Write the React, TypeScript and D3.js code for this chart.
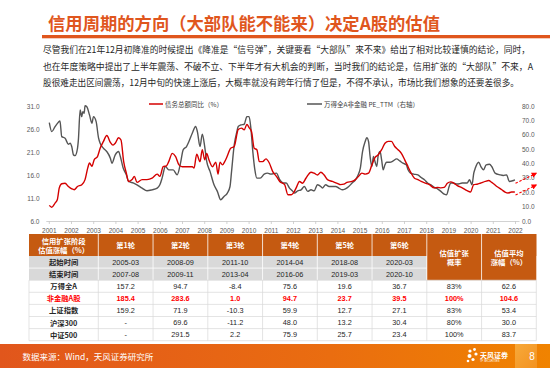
import * as d3 from 'd3';

const titleText = '信用周期的方向（大部队能不能来）决定A股的估值';
const introLines = [
  '尽管我们在21年12月初降准的时候提出《降准是“信号弹”，关键要看“大部队”来不来》给出了相对比较谨慎的结论，同时，',
  '也在年度策略中提出了上半年震荡、不破不立、下半年才有大机会的判断，当时我们的结论是，信用扩张的“大部队”不来，A',
  '股很难走出区间震荡，12月中旬的快速上涨后，大概率就没有跨年行情了但是，不得不承认，市场比我们想象的还要差很多。',
];
const introWidths = [487, 490, 476];

// 债务总额同比（%），左轴
const debtT = [
  2001.0, 2001.11, 2001.26, 2001.36, 2001.45, 2001.56, 2001.71, 2001.86, 2002.01, 2002.12, 2002.27,
  2002.46, 2002.61, 2002.73, 2002.81, 2002.92, 2003.02, 2003.17, 2003.29, 2003.44, 2003.59, 2003.75,
  2003.87, 2003.97, 2004.12, 2004.23, 2004.35, 2004.47, 2004.57, 2004.73, 2004.83, 2004.95, 2005.18,
  2005.4, 2005.63, 2005.86, 2005.98, 2006.13, 2006.28, 2006.38, 2006.54, 2006.69, 2006.84, 2006.99,
  2007.21, 2007.44, 2007.52, 2007.64, 2007.79, 2007.89, 2008.0, 2008.09, 2008.19, 2008.35, 2008.5,
  2008.6, 2008.69, 2008.8, 2008.9, 2008.99, 2009.17, 2009.33, 2009.51, 2009.66, 2009.78, 2009.9,
  2010.0, 2010.11, 2010.23, 2010.35, 2010.46, 2010.61, 2010.76, 2010.91, 2011.06, 2011.23, 2011.38,
  2011.6, 2011.75, 2011.9, 2012.0, 2012.12, 2012.27, 2012.41, 2012.56, 2012.79, 2012.93, 2013.08,
  2013.23, 2013.38, 2013.53, 2013.75, 2013.97, 2014.12, 2014.27, 2014.41, 2014.64, 2014.79, 2014.93,
  2015.08, 2015.23, 2015.38, 2015.53, 2015.67, 2015.82, 2015.97, 2016.12, 2016.27, 2016.41, 2016.56,
  2016.71, 2016.86, 2017.01, 2017.16, 2017.3, 2017.45, 2017.6, 2017.75, 2017.97, 2018.12, 2018.34,
  2018.49, 2018.64, 2018.79, 2018.93, 2019.08, 2019.23, 2019.38, 2019.6, 2019.82, 2019.97, 2020.12,
  2020.27, 2020.41, 2020.64, 2020.79, 2020.93, 2021.16, 2021.38, 2021.53, 2021.67, 2021.82, 2021.97,
];
const debtYoY = [
  9.4, 9.0, 9.9, 10.6, 13.2, 14.1, 14.2, 13.5, 13.0, 12.8, 13.5,
  13.9, 15.0, 17.5, 18.6, 17.9, 19.3, 20.0, 21.8, 23.3, 24.6, 23.1,
  22.5, 22.9, 24.1, 23.6, 18.9, 16.4, 14.6, 15.0, 15.7, 14.4, 15.0,
  15.0, 15.3, 16.2, 15.7, 17.8, 18.0, 18.9, 20.7, 20.0, 18.2, 17.8,
  17.8, 17.8, 17.5, 20.5, 18.9, 21.5, 19.3, 20.7, 19.3, 17.8, 18.8,
  16.2, 18.8, 18.2, 18.9, 19.8, 21.8, 22.2, 25.9, 26.2, 25.8, 27.0,
  26.3, 25.4, 21.8, 21.5, 18.9, 18.9, 19.5, 18.6, 16.8, 15.7, 14.6,
  13.9, 11.7, 11.7, 12.1, 13.2, 14.6, 14.2, 15.3, 16.6, 16.4, 16.0,
  16.6, 16.0, 15.0, 14.6, 14.2, 13.9, 14.0, 14.4, 14.6, 15.0, 15.7,
  16.4, 16.2, 16.4, 18.2, 19.8, 20.4, 21.5, 22.9, 23.3, 23.3, 22.2,
  21.5, 20.7, 19.3, 17.8, 16.4, 15.3, 15.0, 14.6, 14.2, 13.9, 13.2,
  13.3, 13.2, 13.3, 14.2, 14.5, 14.2, 13.7, 13.2, 12.6, 12.3, 13.9,
  14.0, 14.2, 14.6, 14.8, 14.4, 13.5, 12.8, 12.3, 12.1, 12.3, 12.3,
];

// 万得全A非金融 PE_TTM，右轴
const peT = [
  2001.0, 2001.11, 2001.26, 2001.41, 2001.48, 2001.56, 2001.71, 2001.86, 2001.94, 2002.01, 2002.09,
  2002.16, 2002.27, 2002.31, 2002.39, 2002.46, 2002.51, 2002.57, 2002.61, 2002.69, 2002.81, 2002.92,
  2002.99, 2003.11, 2003.22, 2003.29, 2003.44, 2003.59, 2003.75, 2003.82, 2003.97, 2004.12, 2004.2,
  2004.32, 2004.47, 2004.57, 2004.8, 2004.95, 2005.18, 2005.4, 2005.63, 2005.86, 2005.98, 2006.08,
  2006.23, 2006.38, 2006.58, 2006.76, 2006.91, 2007.03, 2007.18, 2007.29, 2007.44, 2007.59, 2007.67,
  2007.79, 2007.89, 2008.0, 2008.09, 2008.24, 2008.42, 2008.57, 2008.72, 2008.87, 2009.02, 2009.14,
  2009.21, 2009.33, 2009.45, 2009.51, 2009.63, 2009.78, 2009.9, 2010.0, 2010.08, 2010.16, 2010.26,
  2010.35, 2010.5, 2010.68, 2010.83, 2010.98, 2011.23, 2011.38, 2011.53, 2011.67, 2011.82, 2011.97,
  2012.04, 2012.19, 2012.34, 2012.49, 2012.64, 2012.79, 2012.93, 2013.08, 2013.23, 2013.3, 2013.45,
  2013.6, 2013.75, 2013.9, 2014.04, 2014.19, 2014.34, 2014.49, 2014.64, 2014.79, 2014.9, 2015.01,
  2015.11, 2015.23, 2015.3, 2015.38, 2015.45, 2015.53, 2015.6, 2015.67, 2015.75, 2015.82, 2015.9,
  2015.97, 2016.04, 2016.12, 2016.19, 2016.34, 2016.49, 2016.64, 2016.79, 2016.93, 2017.08, 2017.16,
  2017.27, 2017.42, 2017.6, 2017.75, 2017.9, 2018.04, 2018.19, 2018.34, 2018.49, 2018.64, 2018.79,
  2018.9, 2019.01, 2019.08, 2019.2, 2019.38, 2019.6, 2019.82, 2019.93, 2020.04, 2020.12, 2020.19,
  2020.34, 2020.44, 2020.56, 2020.68, 2020.83, 2020.93, 2021.08, 2021.3, 2021.45, 2021.6, 2021.72,
  2021.87, 2021.97,
];
const peTTM = [
  68.4, 62.2, 65.7, 68.7, 69.6, 58.7, 57.6, 53.4, 54.1, 51.8, 46.0,
  45.5, 50.6, 56.4, 77.2, 72.6, 76.1, 74.9, 80.2, 79.5, 73.8, 68.0,
  72.6, 69.1, 57.6, 54.1, 50.6, 48.3, 43.7, 40.2, 46.0, 48.3, 44.9,
  37.2, 32.1, 27.5, 26.4, 25.2, 22.9, 21.0, 21.7, 22.9, 25.2, 29.8,
  37.9, 35.6, 35.6, 32.1, 40.2, 49.5, 51.8, 55.3, 61.0, 65.7, 62.2,
  51.8, 60.3, 51.8, 41.4, 34.5, 25.2, 20.6, 14.8, 17.1, 19.4, 24.0,
  34.5, 52.9, 62.2, 65.7, 66.8, 67.3, 72.6, 72.6, 64.5, 49.5, 35.6,
  29.8, 29.8, 32.6, 33.3, 32.6, 33.3, 28.7, 26.4, 26.4, 22.9, 20.6,
  19.4, 21.0, 21.7, 24.0, 20.6, 21.7, 21.0, 25.2, 24.0, 22.9, 25.2,
  24.0, 24.0, 24.0, 22.9, 21.7, 22.4, 24.0, 26.4, 28.7, 31.7, 36.8,
  48.3, 55.3, 58.0, 55.3, 44.9, 37.9, 44.9, 41.4, 37.9, 46.0, 48.3,
  42.5, 35.6, 39.1, 40.9, 40.9, 41.8, 43.2, 41.8, 40.2, 39.1, 35.6,
  33.3, 32.6, 32.1, 30.3, 28.7, 26.4, 25.2, 23.4, 22.4, 20.6, 18.7,
  18.3, 24.0, 26.4, 26.4, 25.7, 26.4, 26.4, 28.7, 25.2, 33.3, 36.8,
  40.9, 37.9, 35.6, 39.1, 39.5, 37.9, 33.3, 32.1, 31.7, 32.1, 27.5,
  28.0, 28.7,
];

// 右侧红色虚线箭头（右轴坐标）：[起点年, 起点值, 终点年, 终点值]
const trendArrows = [
  [2022.0, 26.2, 2022.93, 33.2],
  [2022.0, 18.1, 2022.93, 25.0],
];

const yearTicks = d3.range(2001, 2023);
const leftTicks = [6, 11, 16, 21, 26, 31];
const rightTicks = [0, 10, 20, 30, 40, 50, 60, 70, 80];

const tableCorner = ['信用扩张阶段', '估值涨幅（%）'];
const rounds = ['第1轮', '第2轮', '第3轮', '第4轮', '第5轮', '第6轮'];
const summaryHeads = [['估值扩张', '概率'], ['估值平均', '涨幅（%）']];
const startDates = ['2005-03', '2008-09', '2011-10', '2014-04', '2018-08', '2020-03'];
const endDates = ['2007-08', '2009-11', '2013-04', '2016-06', '2019-03', '2020-10'];
const indexNames = ['万得全A', '非金融A股', '上证指数', '沪深300', '中证500'];
const indexValues = [
  ['157.2', '94.7', '-8.4', '75.6', '19.6', '36.7', '83%', '62.6'],
  ['185.4', '283.6', '1.0', '94.7', '23.7', '39.5', '100%', '104.6'],
  ['159.2', '71.9', '-10.3', '59.9', '12.7', '27.1', '83%', '53.4'],
  ['-', '69.6', '-11.2', '48.0', '13.2', '30.4', '80%', '30.0'],
  ['-', '291.5', '2.2', '75.9', '25.7', '23.4', '100%', '83.7'],
];
const highlightRow = '非金融A股';

const sourceText = '数据来源：Wind，天风证券研究所';

const font = "'Liberation Sans', 'Noto Sans CJK SC', sans-serif";
const cjk = "'Noto Sans CJK SC', sans-serif";
const accent = '#e0561d';
const headBg = '#c55a11';
const red = '#d40000';
const gray = '#555555';

export default function App() {
  const W = 550, H = 368;

  const x = d3.scaleLinear().domain([2001, 2022]).range([49.3, 515.5]);
  const yL = d3.scaleLinear().domain([6, 31]).range([221, 106]);
  const yR = d3.scaleLinear().domain([0, 80]).range([221, 106]);

  const debtLine = d3
    .line<number>()
    .x((_, i) => x(debtT[i]))
    .y((d) => yL(d))
    .curve(d3.curveMonotoneX);
  const peLine = d3
    .line<number>()
    .x((_, i) => x(peT[i]))
    .y((d) => yR(d))
    .curve(d3.curveMonotoneX);

  // table geometry
  const tX0 = 29, firstW = 69.3, colW = 54.75;
  const colLeft = (j: number) => (j === 0 ? tX0 : tX0 + firstW + (j - 1) * colW);
  const colMid = (j: number) => (j === 0 ? tX0 + firstW / 2 : colLeft(j) + colW / 2);
  const tRight = colLeft(9);
  const headTop = 234, headH = 22, rowH = 12.1;
  const rowTop = (r: number) => headTop + headH + r * rowH; // r: 0 起始, 1 结束, 2.. 指数
  const tBottom = rowTop(7);

  return (
    <svg
      width={W}
      height={H}
      viewBox={`0 0 ${W} ${H}`}
      style={{ position: 'absolute', left: 0, top: 0, display: 'block', background: '#fff' }}
      fontFamily={font}
    >
      <defs>
        <linearGradient id="foot" x1="0" x2="1" y1="0" y2="0">
          <stop offset="0" stopColor="#e1561c" />
          <stop offset="0.6" stopColor="#ea6d10" />
          <stop offset="1" stopColor="#f08300" />
        </linearGradient>
        <linearGradient id="pageBox" x1="0" x2="1" y1="0" y2="1">
          <stop offset="0" stopColor="#f7a93a" />
          <stop offset="1" stopColor="#f39220" />
        </linearGradient>
        <marker id="arrowHead" viewBox="0 0 10 10" refX="8" refY="5" markerWidth="5" markerHeight="5" orient="auto">
          <path d="M0,0 L10,5 L0,10 z" fill="#ff0000" />
        </marker>
      </defs>

      {/* title */}
      <text x={48} y={22} fill={accent} fontFamily={cjk} fontWeight="bold" fontSize={17.5}
        dominantBaseline="central" textLength={392} lengthAdjust="spacingAndGlyphs">
        {titleText}
      </text>
      <rect x={42} y={35} width={W - 42} height={3.3} fill={accent} />

      {introLines.map((t, i) => (
        <text key={i} x={43} y={49.5 + i * 16.6} fontFamily={cjk} fontSize={8.8} fill="#262626"
          dominantBaseline="central" textLength={introWidths[i]} lengthAdjust="spacingAndGlyphs">
          {t}
        </text>
      ))}

      {/* chart */}
      <g fontSize={6.5} fill="#595959">
        {leftTicks.map((d) => (
          <text key={d} x={39.5} y={yL(d)} textAnchor="end" dominantBaseline="central">
            {d.toFixed(1)}
          </text>
        ))}
        {rightTicks.map((d) => (
          <text key={d} x={522} y={yR(d)} dominantBaseline="central">
            {d.toFixed(1)}
          </text>
        ))}
        <line x1={x(2001) - 3} x2={x(2022) + 4} y1={221.5} y2={221.5} stroke="#bfbfbf" strokeWidth={0.7} />
        {yearTicks.map((yr) => (
          <g key={yr} transform={`translate(${x(yr)},0)`}>
            <line y1={221.5} y2={224} stroke="#bfbfbf" strokeWidth={0.7} />
            <text y={230} textAnchor="middle" dominantBaseline="central">{yr}</text>
          </g>
        ))}
      </g>

      <path d={peLine(peTTM)!} fill="none" stroke={gray} strokeWidth={1.4} strokeLinejoin="round" />
      <path d={debtLine(debtYoY)!} fill="none" stroke={red} strokeWidth={1.4} strokeLinejoin="round" />

      {trendArrows.map(([a, b, c, d], i) => (
        <line key={i} x1={x(a)} y1={yR(b)} x2={x(c)} y2={yR(d)} stroke="#ff0000" strokeWidth={1.1}
          strokeDasharray="2.5,1.8" markerEnd="url(#arrowHead)" />
      ))}

      {/* legend */}
      <g fontSize={6.5} fill="#404040" fontFamily={cjk}>
        <line x1={149} x2={163} y1={104} y2={104} stroke={red} strokeWidth={1.5} />
        <text x={165} y={104} dominantBaseline="central">债务总额同比（%）</text>
        <line x1={307} x2={322} y1={104} y2={104} stroke={gray} strokeWidth={1.5} />
        <text x={324} y={104} dominantBaseline="central">万得全A非金融 PE_TTM（右轴）</text>
      </g>

      {/* table */}
      <g fontSize={7.3}>
        <rect x={tX0} y={headTop} width={tRight - tX0} height={headH} fill={headBg} />
        <rect x={colLeft(7)} y={headTop} width={colW * 2} height={headH + rowH * 2} fill={headBg} />
        <rect x={tX0} y={rowTop(0)} width={colLeft(7) - tX0} height={rowH * 2} fill="#d9d9d9" />
        <line x1={tX0} x2={colLeft(7)} y1={rowTop(1)} y2={rowTop(1)} stroke="#fff" strokeWidth={0.8} />
        {d3.range(1, 9).map((j) => (
          <line key={j} x1={colLeft(j)} x2={colLeft(j)} y1={headTop} y2={rowTop(2)} stroke="#fff" strokeWidth={0.8} />
        ))}
        {/* white body grid */}
        {d3.range(2, 8).map((r) => (
          <line key={r} x1={tX0} x2={tRight} y1={rowTop(r)} y2={rowTop(r)} stroke="#d9d9d9" strokeWidth={0.7} />
        ))}
        {d3.range(0, 10).map((j) => (
          <line key={j} x1={colLeft(j)} x2={colLeft(j)} y1={rowTop(2)} y2={tBottom} stroke="#d9d9d9" strokeWidth={0.7} />
        ))}

        <g fill="#fff" fontWeight="bold" fontFamily={cjk} textAnchor="middle" dominantBaseline="central">
          <text x={colMid(0)} y={headTop + 6.5}>{tableCorner[0]}</text>
          <text x={colMid(0)} y={headTop + 15.5}>{tableCorner[1]}</text>
          {rounds.map((r, i) => (
            <text key={r} x={colMid(i + 1)} y={headTop + headH / 2}>{r}</text>
          ))}
          {summaryHeads.map((lines, i) =>
            lines.map((t, k) => (
              <text key={`${i}-${k}`} x={colMid(7 + i)} y={headTop + 18.5 + k * 9}>{t}</text>
            ))
          )}
        </g>

        <g textAnchor="middle" dominantBaseline="central" fill="#262626">
          <text x={colMid(0)} y={rowTop(0) + rowH / 2} fontWeight="bold" fontFamily={cjk}>起始时间</text>
          <text x={colMid(0)} y={rowTop(1) + rowH / 2} fontWeight="bold" fontFamily={cjk}>结束时间</text>
          {startDates.map((d, i) => (
            <text key={`s${i}`} x={colMid(i + 1)} y={rowTop(0) + rowH / 2}>{d}</text>
          ))}
          {endDates.map((d, i) => (
            <text key={`e${i}`} x={colMid(i + 1)} y={rowTop(1) + rowH / 2}>{d}</text>
          ))}
          {indexNames.map((name, r) => {
            const hl = name === highlightRow;
            const cy = rowTop(r + 2) + rowH / 2;
            return (
              <g key={name} fill={hl ? '#ff0000' : '#262626'} fontWeight={hl ? 'bold' : 'normal'}>
                <text x={colMid(0)} y={cy} fontWeight="bold" fontFamily={cjk}>{name}</text>
                {indexValues[r].map((v, j) => (
                  <text key={j} x={colMid(j + 1)} y={cy}>{v}</text>
                ))}
              </g>
            );
          })}
        </g>
      </g>

      {/* footer */}
      <rect x={0} y={344} width={W} height={H - 344} fill="url(#foot)" />
      <rect x={515} y={344} width={22} height={H - 344} fill="url(#pageBox)" />
      <text x={22.5} y={356} fill="#fff" fontFamily={cjk} fontSize={8.5} dominantBaseline="central">
        {sourceText}
      </text>
      <g fill="#fff">
        <circle cx={470} cy={351} r={1.6} />
        <circle cx={474.5} cy={349.5} r={1.4} />
        <circle cx={476} cy={354} r={1.6} />
        <circle cx={469.5} cy={356} r={2} />
        <circle cx={473} cy={359.5} r={1.6} />
        <circle cx={468} cy={361} r={1.3} />
        <text x={480} y={354.5} fontFamily={cjk} fontSize={7} fontWeight="bold" dominantBaseline="central">天风证券</text>
        <text x={480} y={361} fontSize={2.6} dominantBaseline="central">TF SECURITIES</text>
        <text x={532} y={356} fontSize={10} textAnchor="middle" dominantBaseline="central">8</text>
      </g>
    </svg>
  );
}
